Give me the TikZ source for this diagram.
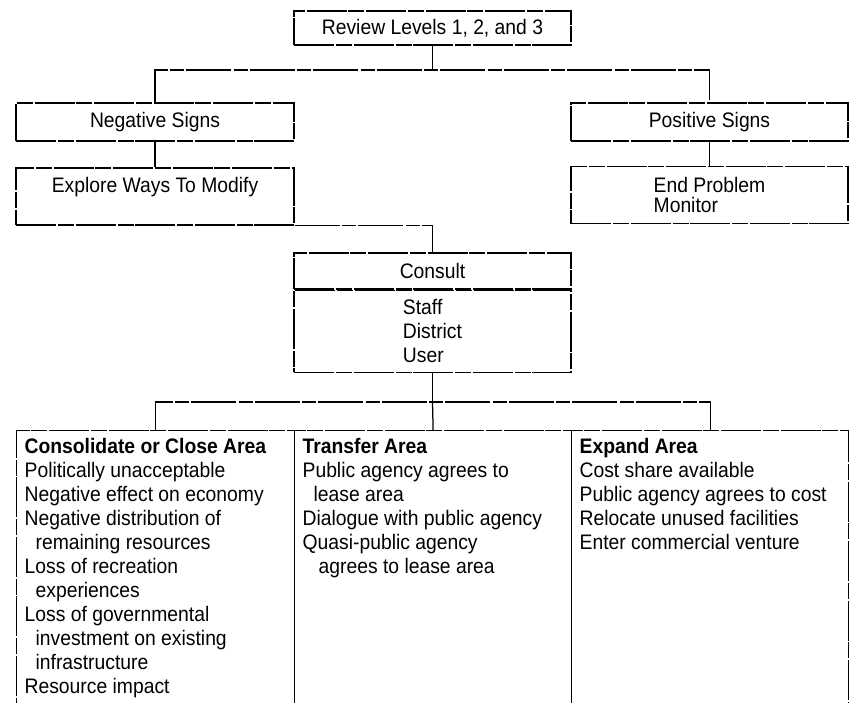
\documentclass[tikz,border=0pt]{standalone}
\usepackage{fontspec}
\setmainfont{Liberation Sans}[FakeStretch=0.92]
\usetikzlibrary{positioning}

\begin{document}
\begin{tikzpicture}[x=1pt, y=-1pt, line width=1.25pt,
    every node/.style={font=\fontsize{21}{24}\selectfont},
    box/.style={draw, dash pattern=on 40pt off 2pt on 16pt off 1.5pt, minimum width=277pt, inner sep=0pt},
    coltext/.style={anchor=north west, align=left, inner xsep=8pt, inner ysep=8pt},
    brk/.style={dash pattern=on 45pt off 2.5pt on 14pt off 2pt}]
    \useasboundingbox (0,0) rectangle (849,702);
    \clip (0,0) rectangle (849,702);

    % top of the tree
    \node[box, minimum height=34pt] (review) at (432.5,28) {Review Levels 1, 2, and 3};
    \node[box, minimum width=278pt, minimum height=38pt] (neg) at (155,122) {Negative Signs};
    \node[box, minimum height=38pt] (pos) at (709.5,122) {Positive Signs};
    \node[box, minimum width=278pt, minimum height=57pt, align=center] (explore) at (155,196.5) {Explore Ways To Modify\\\mbox{}};
    \node[box, minimum height=57pt, align=left, font=\fontsize{21}{19.5}\selectfont] (endprob) at (709.5,195) {End Problem\\Monitor};

    \coordinate (fork1) at (432.5,70);
    \draw (review) -- (fork1);
    \draw[brk] (neg.north) |- (fork1) -| (pos.north);
    \draw (neg) -- (explore);
    \draw (pos) -- (endprob);

    % consult box
    \node[box, minimum height=36pt] (consult) at (432.5,271) {Consult};
    \node[box, minimum height=82pt, align=left, below=0pt of consult] (staff) {Staff\\District\\User};
    \draw[brk] (explore.south east) -| (consult.north);

    % the three ways out
    \coordinate (fork2) at (432.5,402);
    \foreach \x/\w/\name in {16/278/consol, 294/277/transfer, 571/277/expand}
        \node[box, minimum width=\w pt, minimum height=290pt, anchor=north west] (\name) at (\x,430) {};
    \draw (staff) -- (fork2);
    \draw[brk] (consol.north) |- (fork2) -| (expand.north);
    \draw (fork2) -- (transfer.north);

    \node[coltext] (consoltxt) at (consol.north west) {\textbf{Consolidate or Close Area}\\
        Politically unacceptable\\
        Negative effect on economy\\
        Negative distribution of\\
        \hspace*{11pt}remaining resources\\
        Loss of recreation\\
        \hspace*{11pt}experiences\\
        Loss of governmental\\
        \hspace*{11pt}investment on existing\\
        \hspace*{11pt}infrastructure\\
        Resource impact};
    \node[coltext] (transfertxt) at (transfer.north west) {\textbf{Transfer Area}\\
        Public agency agrees to\\
        \hspace*{11pt}lease area\\
        Dialogue with public agency\\
        Quasi-public agency\\
        \hspace*{16pt}agrees to lease area};
    \node[coltext] (expandtxt) at (expand.north west) {\textbf{Expand Area}\\
        Cost share available\\
        Public agency agrees to cost\\
        Relocate unused facilities\\
        Enter commercial venture};
\end{tikzpicture}
\end{document}
